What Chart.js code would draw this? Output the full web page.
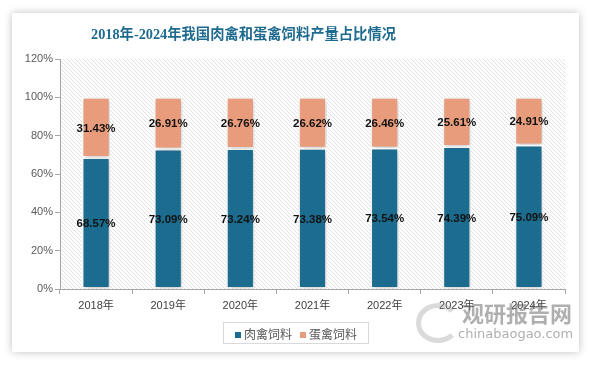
<!DOCTYPE html>
<html>
<head>
<meta charset="utf-8">
<script src="https://cdn.jsdelivr.net/npm/chart.js@4"></script>
<style>
  html, body { margin: 0; padding: 0; background: #fff; }
  #wrap { position: relative; width: 594px; height: 366px; overflow: hidden; }
  #card { position: absolute; left: 12px; top: 13px; width: 567px; height: 339px; background: #fff;
          box-shadow: 0 0 8px rgba(0,0,0,0.25); }
  #title { position: absolute; left: 91px; top: 22px; width: 304px; text-align: center; white-space: nowrap;
           font: bold 14.3px "Liberation Serif", "Noto Sans CJK SC", serif; color: #1f6b8f; }
  canvas { position: absolute; left: 0; top: 0; }
  #legend { position: absolute; left: 223px; top: 322px; width: 144px; height: 20px; border: 1px solid #d9d9d9;
            font: 12px "Noto Sans CJK SC", sans-serif; color: #595959; display: flex; align-items: center; justify-content: center; gap: 8px; }
  #legend span.sw { display: inline-block; width: 6px; height: 6px; margin-right: 3px; vertical-align: 1px; }
  #wm1 { position: absolute; left: 462px; top: 296px; font: bold 22px "Noto Sans CJK SC", sans-serif; color: rgba(110,110,110,0.55); }
  #wm2 { position: absolute; left: 458px; top: 326px; font: 13px "DejaVu Sans", sans-serif; color: rgba(120,120,120,0.6); }
  #wmlogo { position: absolute; left: 416px; top: 303px; width: 34px; height: 30px; border-radius: 50%;
            border: 5px solid rgba(150,150,150,0.35); border-right-color: transparent; }
</style>
</head>
<body>
<div id="wrap">
  <div id="card"></div>
  <canvas id="c" width="594" height="366"></canvas>
  <div id="title">2018年-2024年我国肉禽和蛋禽饲料产量占比情况</div>
  <div id="legend"></div>
  <div id="wmlogo"></div>
  <div id="wm1">观研报告网</div>
  <div id="wm2">chinabaogao.com</div>
</div>
<script>
// 数据
var years = ["2018年", "2019年", "2020年", "2021年", "2022年", "2023年", "2024年"];
var seriesNames = ["肉禽饲料", "蛋禽饲料"];
var meatShare = [68.57, 73.09, 73.24, 73.38, 73.54, 74.39, 75.09];
var eggShare = [31.43, 26.91, 26.76, 26.62, 26.46, 25.61, 24.91];
var yTicks = [0, 20, 40, 60, 80, 100, 120];
var colors = ["#1b6c8f", "#e89c7b"];

// 斜线底纹
function makeHatch() {
    var p = document.createElement("canvas");
    p.width = 4; p.height = 4;
    var g = p.getContext("2d");
    g.strokeStyle = "#e2e2e2";
    g.lineWidth = 1;
    g.beginPath();
    g.moveTo(-1, -1); g.lineTo(5, 5);
    g.moveTo(3, -1); g.lineTo(5, 1);
    g.moveTo(-1, 3); g.lineTo(1, 5);
    g.stroke();
    return p;
}

var hatchPlugin = {
    id: "hatch",
    beforeDraw: function (chart) {
        var a = chart.chartArea, ctx = chart.ctx;
        ctx.save();
        ctx.fillStyle = ctx.createPattern(makeHatch(), "repeat");
        ctx.fillRect(a.left, a.top, a.right - a.left, a.bottom - a.top);
        ctx.restore();
    },
    beforeDatasetsDraw: function (chart) {
        var ctx = chart.ctx;
        ctx.save();
        ctx.shadowColor = "rgba(0,0,0,0.28)";
        ctx.shadowBlur = 5;
        ctx.shadowOffsetX = 1;
        ctx.shadowOffsetY = 1;
    },
    afterDatasetsDraw: function (chart) {
        var ctx = chart.ctx;
        ctx.restore();
        ctx.save();
        ctx.font = "bold 11.5px 'Liberation Sans', sans-serif";
        ctx.fillStyle = "#111";
        ctx.textAlign = "center";
        ctx.textBaseline = "middle";
        chart.data.datasets.forEach(function (ds, di) {
            chart.getDatasetMeta(di).data.forEach(function (bar, i) {
                var mid = (bar.y + bar.base) / 2;
                ctx.fillText(ds.data[i].toFixed(2) + "%", bar.x, mid + 1);
            });
        });
        ctx.restore();
    }
};

var datasets = [meatShare, eggShare].map(function (vals, i) {
    return {
        label: seriesNames[i],
        data: vals,
        backgroundColor: colors[i],
        borderColor: "#ffffff",
        borderWidth: 1.5,
        borderSkipped: false,
        categoryPercentage: 1,
        barPercentage: 0.39
    };
});

new Chart(document.getElementById("c").getContext("2d"), {
    type: "bar",
    data: { labels: years, datasets: datasets },
    plugins: [hatchPlugin],
    options: {
        responsive: false,
        animation: false,
        layout: { padding: { left: 0, right: 29, top: 59, bottom: 0 } },
        plugins: { legend: { display: false }, tooltip: { enabled: false } },
        scales: {
            x: {
                stacked: true,
                afterFit: function (s) { s.height = 77; },
                border: { display: true, color: "#a6a6a6", width: 1 },
                grid: { offset: true, drawOnChartArea: false, drawTicks: true, tickLength: 5, color: "#a6a6a6" },
                ticks: { color: "#404040", padding: 5, font: { size: 11, family: "'Liberation Sans', 'Noto Sans CJK SC', sans-serif" } }
            },
            y: {
                stacked: true,
                min: 0,
                max: 120,
                afterFit: function (s) { s.width = 60; },
                afterBuildTicks: function (s) { s.ticks = yTicks.map(function (v) { return { value: v }; }); },
                border: { display: true, color: "#a6a6a6", width: 1 },
                grid: { drawOnChartArea: false, drawTicks: true, tickLength: 5, color: "#a6a6a6" },
                ticks: {
                    color: "#595959",
                    padding: 2,
                    font: { size: 11, family: "'Liberation Sans', sans-serif" },
                    callback: function (v) { return v + "%"; }
                }
            }
        }
    }
});

// 图例
var legend = document.getElementById("legend");
seriesNames.forEach(function (name, i) {
    var item = document.createElement("span");
    var sw = document.createElement("span");
    sw.className = "sw";
    sw.style.background = colors[i];
    item.appendChild(sw);
    item.appendChild(document.createTextNode(name));
    legend.appendChild(item);
});
</script>
</body>
</html>
